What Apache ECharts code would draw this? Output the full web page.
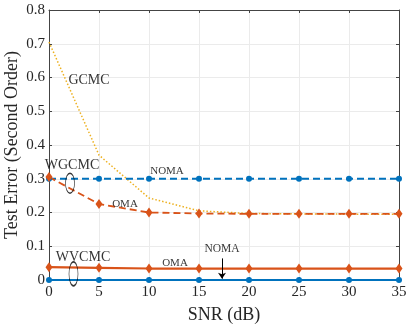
<!DOCTYPE html>
<html>
<head>
<meta charset="utf-8">
<script src="https://cdn.jsdelivr.net/npm/echarts@6/dist/echarts.min.js"></script>
<style>
  html, body { margin: 0; padding: 0; background: #fff; }
  #chart { width: 408px; height: 328px; }
</style>
</head>
<body>
<div id="chart"></div>
<script>
  // SNR axis (dB)
  var snr = [0, 5, 10, 15, 20, 25, 30, 35];
  // test error values
  var gcmc = [0.705, 0.37, 0.243, 0.205, 0.197, 0.196, 0.195, 0.195];
  var wgcmcOma = [0.305, 0.225, 0.2, 0.197, 0.196, 0.196, 0.196, 0.196];
  var wgcmcNoma = [0.3, 0.3, 0.3, 0.3, 0.3, 0.3, 0.3, 0.3];
  var wvcmcOma = [0.038, 0.036, 0.034, 0.034, 0.034, 0.034, 0.034, 0.034];
  var wvcmcNoma = [0, 0, 0, 0, 0, 0, 0, 0];

  var FONT = '"Liberation Serif", "DejaVu Serif", serif';
  var BLUE = '#0072BD', ORANGE = '#D95319', YELLOW = '#EDB120';

  function pairs(ys) {
    return snr.map(function (x, i) { return [x, ys[i]]; });
  }

  // text annotations [x, y, text, fontSize]
  var notes = [
    [4.0, 0.593, 'GCMC', 14],
    [2.3, 0.34, 'WGCMC', 14],
    [11.8, 0.322, 'NOMA', 11],
    [7.6, 0.226, 'OMA', 11],
    [3.4, 0.066, 'WVCMC', 14],
    [12.6, 0.05, 'OMA', 11],
    [17.3, 0.092, 'NOMA', 11.5]
  ];
  // ellipses grouping curves [x, y, w, h]
  var rings = [
    [2.1, 0.287, 9, 20],
    [2.45, 0.018, 9, 24]
  ];

  var chart = echarts.init(document.getElementById('chart'));

  var INK = '#262626';
  var axisLine = { show: true, onZero: false, lineStyle: { color: '#444', width: 1 } };
  var tick = { inside: true, length: 3, lineStyle: { color: '#444' } };
  var grid = { show: true, lineStyle: { color: '#ebebeb' } };

  chart.setOption({
    animation: false,
    grid: { left: 49, right: 9, top: 10, bottom: 48, show: false, containLabel: false, outerBoundsMode: 'none' },
    xAxis: [{
      type: 'value', min: 0, max: 35, interval: 5,
      name: 'SNR (dB)', nameLocation: 'middle', nameGap: 26, nameMoveOverlap: false,
      nameTextStyle: { fontFamily: FONT, fontSize: 18, color: INK },
      axisLine: axisLine, axisTick: tick,
      axisLabel: { fontFamily: FONT, fontSize: 15, color: INK, margin: 5 },
      splitLine: grid
    }, {
      type: 'value', min: 0, max: 35, interval: 5, position: 'top',
      axisLine: axisLine, axisTick: tick,
      axisLabel: { show: false }, splitLine: { show: false }
    }],
    yAxis: [{
      type: 'value', min: 0, max: 0.8, interval: 0.1,
      name: 'Test Error (Second Order)', nameLocation: 'middle', nameGap: 28, nameMoveOverlap: false,
      nameTextStyle: { fontFamily: FONT, fontSize: 18, color: INK },
      axisLine: axisLine, axisTick: tick,
      axisLabel: {
        fontFamily: FONT, fontSize: 15, color: INK, margin: 4,
        formatter: function (v) { return v === 0 ? '0' : String(+v.toFixed(1)); }
      },
      splitLine: grid
    }, {
      type: 'value', min: 0, max: 0.8, interval: 0.1, position: 'right',
      axisLine: axisLine, axisTick: tick,
      axisLabel: { show: false }, splitLine: { show: false }
    }],
    series: [
      {
        type: 'line', data: pairs(gcmc), symbol: 'none',
        lineStyle: { color: YELLOW, width: 1.5, type: [1.5, 2] }
      },
      {
        type: 'line', data: pairs(wgcmcNoma), symbol: 'circle', symbolSize: 6,
        itemStyle: { color: BLUE },
        lineStyle: { color: BLUE, width: 1.8, type: [7, 4] }
      },
      {
        type: 'line', data: pairs(wgcmcOma), symbol: 'diamond', symbolSize: [7, 10],
        itemStyle: { color: ORANGE },
        lineStyle: { color: ORANGE, width: 1.8, type: [7, 4] }
      },
      {
        type: 'line', data: pairs(wvcmcNoma), symbol: 'circle', symbolSize: 6,
        itemStyle: { color: BLUE },
        lineStyle: { color: BLUE, width: 2.2 }
      },
      {
        type: 'line', data: pairs(wvcmcOma), symbol: 'diamond', symbolSize: [7, 10],
        itemStyle: { color: ORANGE },
        lineStyle: { color: ORANGE, width: 2.2 },
        markLine: {
          silent: true, symbol: ['none', 'arrow'], symbolSize: 6,
          lineStyle: { color: '#000', width: 1, type: 'solid' },
          label: { show: false },
          data: [[{ coord: [17.3, 0.064] }, { coord: [17.3, 0.004] }]]
        }
      },
      {
        type: 'scatter', silent: true, z: 5,
        data: rings.map(function (r) { return { value: [r[0], r[1]], symbolSize: [r[2], r[3]] }; }),
        symbol: 'circle',
        itemStyle: { color: 'rgba(0,0,0,0)', borderColor: '#000', borderWidth: 1 }
      },
      {
        type: 'scatter', silent: true, z: 6, symbolSize: 0,
        data: notes.map(function (n) {
          return {
            value: [n[0], n[1]],
            label: {
              show: true, position: 'inside', formatter: n[2],
              fontFamily: FONT, fontSize: n[3], color: '#000'
            }
          };
        })
      }
    ]
  });
</script>
</body>
</html>
